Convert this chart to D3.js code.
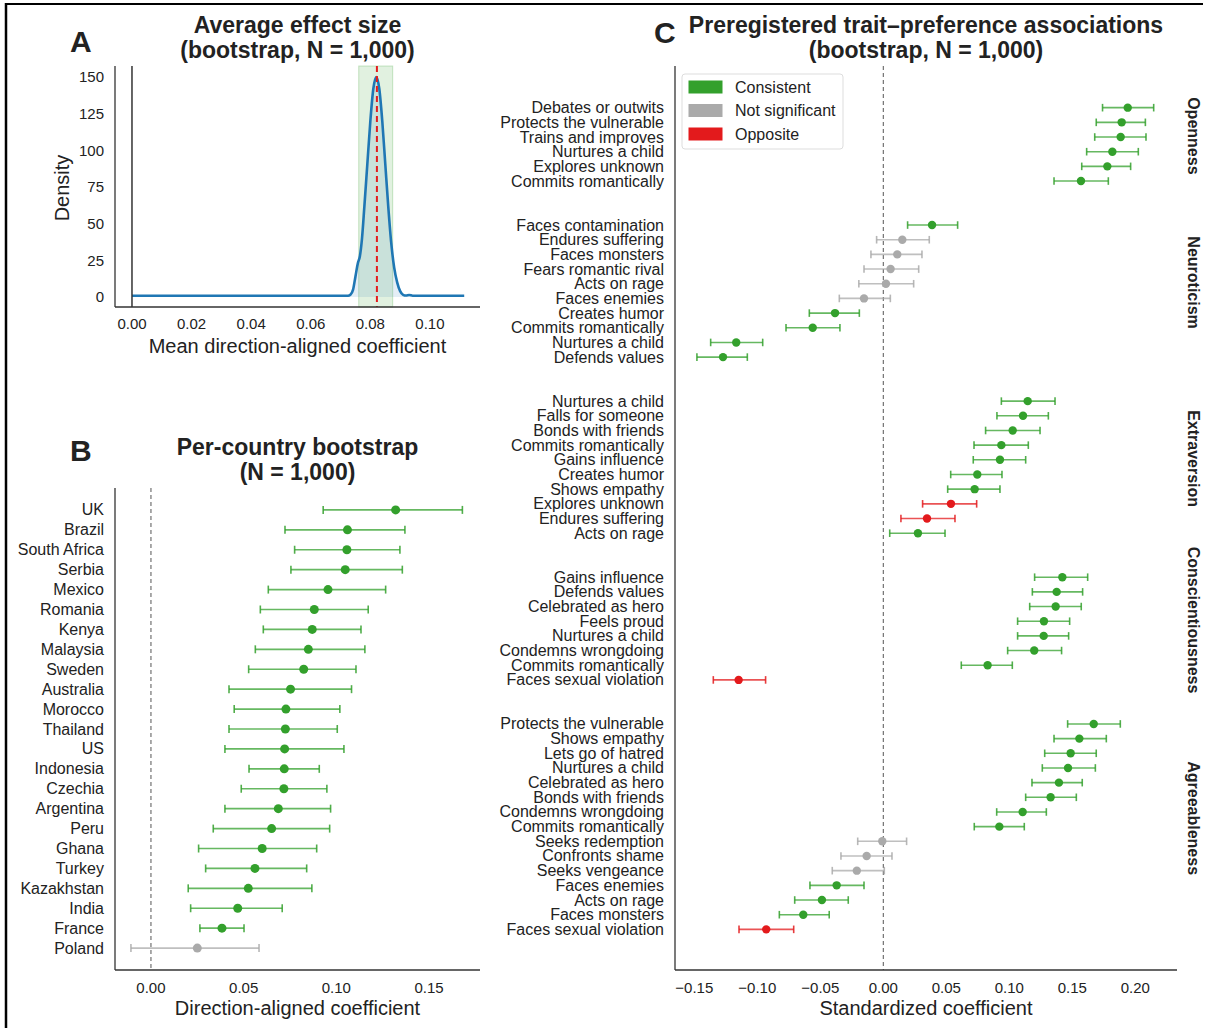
<!DOCTYPE html>
<html>
<head>
<meta charset="utf-8">
<script src="https://cdn.jsdelivr.net/npm/d3@7"></script>
<style>
  body { margin: 0; background: #fff; }
  svg { display: block; font-family: "Liberation Sans", Arial, sans-serif; }
</style>
</head>
<body>
<svg id="fig" width="1206" height="1028"></svg>
<script>
// ---- data ----
// panel A: bootstrap density of mean direction-aligned coefficient
const densX = [0, 0.0725, 0.0733, 0.0742, 0.0750, 0.0758, 0.0765, 0.0772, 0.0780, 0.0790, 0.0800, 0.0810, 0.0820, 0.0830, 0.0840, 0.0850, 0.0860, 0.0870, 0.0880, 0.0890, 0.0900, 0.0910, 0.0920, 0.0930, 0.0942, 0.1115];
const densY = [0.8, 0.8, 1.5, 5, 14, 23, 28, 40, 62, 91, 120, 142, 150, 142, 120, 91, 62, 37, 20, 10, 4, 1.5, 1.0, 1.4, 0.9, 0.8];
const ciA = [0.0761, 0.0875];
const meanA = 0.0822;
const ticksAx = [0, 0.02, 0.04, 0.06, 0.08, 0.10];
const ticksAy = [0, 25, 50, 75, 100, 125, 150];

// panel B: per-country bootstrap
const countries = ["UK", "Brazil", "South Africa", "Serbia", "Mexico", "Romania", "Kenya", "Malaysia", "Sweden", "Australia", "Morocco", "Thailand", "US", "Indonesia", "Czechia", "Argentina", "Peru", "Ghana", "Turkey", "Kazakhstan", "India", "France", "Poland"];
const countryEst = [0.132, 0.106, 0.1057, 0.1048, 0.0955, 0.0881, 0.087, 0.0849, 0.0824, 0.0753, 0.0728, 0.0725, 0.0721, 0.0719, 0.0717, 0.0687, 0.0651, 0.060, 0.0561, 0.0525, 0.0468, 0.0383, 0.025];
const countryLo = [0.0929, 0.0723, 0.0775, 0.0755, 0.0633, 0.059, 0.0606, 0.0563, 0.0527, 0.0421, 0.0449, 0.0421, 0.0399, 0.0529, 0.0487, 0.0399, 0.0336, 0.0257, 0.0295, 0.0201, 0.0214, 0.0264, -0.0108];
const countryHi = [0.168, 0.137, 0.1343, 0.1356, 0.1266, 0.1172, 0.1133, 0.1154, 0.1106, 0.1082, 0.1019, 0.1005, 0.1041, 0.0908, 0.0949, 0.0969, 0.0964, 0.0894, 0.084, 0.0868, 0.0708, 0.0502, 0.0583];
const countrySig = ["c","c","c","c","c","c","c","c","c","c","c","c","c","c","c","c","c","c","c","c","c","c","n"];
const ticksB = [0, 0.05, 0.10, 0.15];

// panel C: preregistered trait-preference associations
const traits = ["Openness", "Neuroticism", "Extraversion", "Conscientiousness", "Agreeableness"];
const openItems = ["Debates or outwits", "Protects the vulnerable", "Trains and improves", "Nurtures a child", "Explores unknown", "Commits romantically"];
const openEst = [0.194, 0.1892, 0.1884, 0.1818, 0.1778, 0.1569];
const openLo = [0.174, 0.169, 0.1678, 0.1614, 0.1575, 0.1355];
const openHi = [0.2146, 0.208, 0.2085, 0.2024, 0.1963, 0.1786];
const openSig = ["c","c","c","c","c","c"];

const neuroItems = ["Faces contamination", "Endures suffering", "Faces monsters", "Fears romantic rival", "Acts on rage", "Faces enemies", "Creates humor", "Commits romantically", "Nurtures a child", "Defends values"];
const neuroEst = [0.0387, 0.0151, 0.0111, 0.0058, 0.0021, -0.0153, -0.0383, -0.056, -0.1167, -0.1272];
const neuroLo = [0.0193, -0.0053, -0.0098, -0.0153, -0.0194, -0.0349, -0.0587, -0.0772, -0.137, -0.1479];
const neuroHi = [0.059, 0.0365, 0.0307, 0.0281, 0.0241, 0.0056, -0.019, -0.0344, -0.0957, -0.1079];
const neuroSig = ["c","n","n","n","n","n","c","c","c","c"];

const extraItems = ["Nurtures a child", "Falls for someone", "Bonds with friends", "Commits romantically", "Gains influence", "Creates humor", "Shows empathy", "Explores unknown", "Endures suffering", "Acts on rage"];
const extraEst = [0.1146, 0.1109, 0.1027, 0.0937, 0.0926, 0.0746, 0.0725, 0.0537, 0.0347, 0.0275];
const extraLo = [0.0937, 0.0902, 0.0812, 0.072, 0.0714, 0.0535, 0.0511, 0.0312, 0.014, 0.0051];
const extraHi = [0.1363, 0.131, 0.1244, 0.1151, 0.113, 0.0942, 0.0926, 0.0741, 0.0569, 0.049];
const extraSig = ["c","c","c","c","c","c","c","o","o","c"];

const consItems = ["Gains influence", "Defends values", "Celebrated as hero", "Feels proud", "Nurtures a child", "Condemns wrongdoing", "Commits romantically", "Faces sexual violation"];
const consEst = [0.1421, 0.1376, 0.1368, 0.1275, 0.1273, 0.1198, 0.0828, -0.1148];
const consLo = [0.1201, 0.1183, 0.1162, 0.1066, 0.1066, 0.0987, 0.0619, -0.1349];
const consHi = [0.1622, 0.1582, 0.1571, 0.1479, 0.1471, 0.1415, 0.1024, -0.0934];
const consSig = ["c","c","c","c","c","c","c","o"];

const agreeItems = ["Protects the vulnerable", "Shows empathy", "Lets go of hatred", "Nurtures a child", "Celebrated as hero", "Bonds with friends", "Condemns wrongdoing", "Commits romantically", "Seeks redemption", "Confronts shame", "Seeks vengeance", "Faces enemies", "Acts on rage", "Faces monsters", "Faces sexual violation"];
const agreeEst = [0.167, 0.1556, 0.1487, 0.1466, 0.1394, 0.1328, 0.1106, 0.0921, -0.0008, -0.0132, -0.021, -0.037, -0.0487, -0.0635, -0.0929];
const agreeLo = [0.1463, 0.1355, 0.1281, 0.1262, 0.118, 0.113, 0.09, 0.0722, -0.0203, -0.0336, -0.0405, -0.0582, -0.0703, -0.0825, -0.1145];
const agreeHi = [0.1881, 0.177, 0.169, 0.1683, 0.1579, 0.1532, 0.1294, 0.1119, 0.0185, 0.0069, 0.0008, -0.0153, -0.0278, -0.0429, -0.0711];
const agreeSig = ["c","c","c","c","c","c","c","c","n","n","n","c","c","c","o"];

const ticksC = [-0.15, -0.10, -0.05, 0, 0.05, 0.10, 0.15, 0.20];
const legendLabels = ["Consistent", "Not significant", "Opposite"];

// ---- styling ----
const colors = { c: "#33a02c", n: "#aaaaaa", o: "#e31a1c" };
const ink = "#222";
const spine = "#333";

const svg = d3.select("#fig");

// outer frame (top and left edges only)
svg.append("line").attr("x1", 5).attr("x2", 1203).attr("y1", 4).attr("y2", 4)
  .attr("stroke", "#000").attr("stroke-width", 2.2);
svg.append("line").attr("x1", 6).attr("x2", 6).attr("y1", 3).attr("y2", 1028)
  .attr("stroke", "#000").attr("stroke-width", 2.5);

function title(lines, cx, y0, step) {
  lines.forEach((t, i) => {
    svg.append("text").attr("x", cx).attr("y", y0 + i * step)
      .attr("text-anchor", "middle").attr("font-size", 23).attr("font-weight", "bold")
      .attr("fill", ink).text(t);
  });
}
function panelLetter(t, x, y) {
  svg.append("text").attr("x", x).attr("y", y).attr("font-size", 30)
    .attr("font-weight", "bold").attr("fill", ink).text(t);
}
function spines(x0, x1, y0, y1) {
  svg.append("line").attr("x1", x0).attr("x2", x0).attr("y1", y0).attr("y2", y1)
    .attr("stroke", spine).attr("stroke-width", 1.3);
  svg.append("line").attr("x1", x0).attr("x2", x1).attr("y1", y1).attr("y2", y1)
    .attr("stroke", spine).attr("stroke-width", 1.3);
}
function xTicks(scale, ticks, y, fmt) {
  svg.append("g").selectAll("text").data(ticks).join("text")
    .attr("x", d => scale(d)).attr("y", y).attr("text-anchor", "middle")
    .attr("dominant-baseline", "central").attr("font-size", 15).attr("fill", ink)
    .text(fmt);
}
function errorRows(g, rows, x, yOf, cap, r) {
  const row = g.selectAll("g.row").data(rows).join("g").attr("class", "row")
    .attr("transform", d => `translate(0,${yOf(d)})`);
  row.append("line").attr("x1", d => x(d.lo)).attr("x2", d => x(d.hi))
    .attr("stroke", d => colors[d.sig]).attr("stroke-width", 1.6).attr("stroke-opacity", 0.75);
  row.append("line").attr("x1", d => x(d.lo)).attr("x2", d => x(d.lo)).attr("y1", -cap).attr("y2", cap)
    .attr("stroke", d => colors[d.sig]).attr("stroke-width", 1.6).attr("stroke-opacity", 0.85);
  row.append("line").attr("x1", d => x(d.hi)).attr("x2", d => x(d.hi)).attr("y1", -cap).attr("y2", cap)
    .attr("stroke", d => colors[d.sig]).attr("stroke-width", 1.6).attr("stroke-opacity", 0.85);
  row.append("circle").attr("cx", d => x(d.est)).attr("r", r).attr("fill", d => colors[d.sig]);
}

// ================= Panel A =================
{
  const L = 115, R = 480, T = 66, B = 307;
  const x = d3.scaleLinear().domain([-0.0057, 0.1168]).range([L, R]);
  const y = d3.scaleLinear().domain([-6.82, 157.5]).range([B, T]);
  const pts = densX.map((v, i) => [v, densY[i]]);

  panelLetter("A", 70, 52);
  title(["Average effect size", "(bootstrap, N = 1,000)"], 297.5, 33, 24.5);

  svg.append("rect").attr("x", x(ciA[0])).attr("y", T).attr("width", x(ciA[1]) - x(ciA[0]))
    .attr("height", B - T).attr("fill", colors.c).attr("fill-opacity", 0.15)
    .attr("stroke", colors.c).attr("stroke-opacity", 0.25);

  svg.append("path").datum(pts)
    .attr("d", d3.area().x(d => x(d[0])).y0(y(0)).y1(d => y(d[1])).curve(d3.curveMonotoneX))
    .attr("fill", "#1f77b4").attr("fill-opacity", 0.12);
  svg.append("path").datum(pts)
    .attr("d", d3.line().x(d => x(d[0])).y(d => y(d[1])).curve(d3.curveMonotoneX))
    .attr("fill", "none").attr("stroke", "#1f77b4").attr("stroke-width", 2.6);

  svg.append("line").attr("x1", x(0)).attr("x2", x(0)).attr("y1", T).attr("y2", B)
    .attr("stroke", "#333").attr("stroke-width", 1.5);
  svg.append("line").attr("x1", x(meanA)).attr("x2", x(meanA)).attr("y1", T).attr("y2", B)
    .attr("stroke", "#e31a1c").attr("stroke-width", 2).attr("stroke-dasharray", "6,4");

  spines(L, R, T, B);
  xTicks(x, ticksAx, 323, d3.format(".2f"));
  svg.append("g").selectAll("text").data(ticksAy).join("text")
    .attr("x", 104).attr("y", d => y(d)).attr("text-anchor", "end")
    .attr("dominant-baseline", "central").attr("font-size", 15).attr("fill", ink).text(d => d);

  svg.append("text").attr("x", 297.5).attr("y", 353).attr("text-anchor", "middle")
    .attr("font-size", 20).attr("fill", ink).text("Mean direction-aligned coefficient");
  svg.append("text").attr("transform", "translate(69,188) rotate(-90)").attr("text-anchor", "middle")
    .attr("font-size", 20).attr("fill", ink).text("Density");
}

// ================= Panel B =================
{
  const L = 115, R = 480, T = 488, B = 970;
  const x = d3.scaleLinear().domain([-0.0194, 0.1775]).range([L, R]);
  const y = d3.scalePoint().domain(countries).range([T, B]).padding(1.1);
  const rows = countries.map((c, i) => ({ name: c, est: countryEst[i], lo: countryLo[i], hi: countryHi[i], sig: countrySig[i] }));

  panelLetter("B", 70, 461);
  title(["Per-country bootstrap", "(N = 1,000)"], 297.5, 455, 24.5);

  svg.append("line").attr("x1", x(0)).attr("x2", x(0)).attr("y1", T).attr("y2", B)
    .attr("stroke", "#555").attr("stroke-width", 1).attr("stroke-dasharray", "4,3");

  errorRows(svg.append("g"), rows, x, d => y(d.name), 4, 4.5);

  spines(L, R, T, B);
  xTicks(x, ticksB, 987, d3.format(".2f"));
  svg.append("g").selectAll("text").data(countries).join("text")
    .attr("x", 104).attr("y", d => y(d)).attr("text-anchor", "end")
    .attr("dominant-baseline", "central").attr("font-size", 16).attr("fill", ink).text(d => d);

  svg.append("text").attr("x", 297.5).attr("y", 1015).attr("text-anchor", "middle")
    .attr("font-size", 20).attr("fill", ink).text("Direction-aligned coefficient");
}

// ================= Panel C =================
{
  const L = 675, R = 1177, T = 66, B = 970;
  const x = d3.scaleLinear().domain([-0.1653, 0.2331]).range([L, R]);
  const groups = [
    { trait: traits[0], items: openItems, est: openEst, lo: openLo, hi: openHi, sig: openSig },
    { trait: traits[1], items: neuroItems, est: neuroEst, lo: neuroLo, hi: neuroHi, sig: neuroSig },
    { trait: traits[2], items: extraItems, est: extraEst, lo: extraLo, hi: extraHi, sig: extraSig },
    { trait: traits[3], items: consItems, est: consEst, lo: consLo, hi: consHi, sig: consSig },
    { trait: traits[4], items: agreeItems, est: agreeEst, lo: agreeLo, hi: agreeHi, sig: agreeSig }
  ];
  // assign row positions, two empty rows between trait groups
  const rows = [];
  const groupPos = [];
  let k = 0;
  groups.forEach(g => {
    const start = k;
    g.items.forEach((name, i) => {
      rows.push({ name, est: g.est[i], lo: g.lo[i], hi: g.hi[i], sig: g.sig[i], pos: k });
      k += 1;
    });
    groupPos.push({ trait: g.trait, mid: (start + k - 1) / 2 });
    k += 2;
  });
  const last = k - 3;
  const y = d3.scaleLinear().domain([-2.84, last + 2.77]).range([T, B]);

  panelLetter("C", 654, 43);
  title(["Preregistered trait\u2013preference associations", "(bootstrap, N = 1,000)"], 926, 33, 24.5);

  svg.append("line").attr("x1", x(0)).attr("x2", x(0)).attr("y1", T).attr("y2", B)
    .attr("stroke", "#555").attr("stroke-width", 1).attr("stroke-dasharray", "4,3");

  errorRows(svg.append("g"), rows, x, d => y(d.pos), 3.8, 4.2);

  spines(L, R, T, B);
  xTicks(x, ticksC, 987, d3.format(".2f"));
  svg.append("g").selectAll("text").data(rows).join("text")
    .attr("x", 664).attr("y", d => y(d.pos)).attr("text-anchor", "end")
    .attr("dominant-baseline", "central").attr("font-size", 16).attr("fill", ink).text(d => d.name);

  svg.append("g").selectAll("text").data(groupPos).join("text")
    .attr("transform", d => `translate(1193,${y(d.mid - 0.58)}) rotate(90)`)
    .attr("text-anchor", "middle").attr("dominant-baseline", "central")
    .attr("font-size", 16).attr("font-weight", "bold").attr("fill", ink).text(d => d.trait);

  svg.append("text").attr("x", 926).attr("y", 1015).attr("text-anchor", "middle")
    .attr("font-size", 20).attr("fill", ink).text("Standardized coefficient");

  // legend
  const lg = svg.append("g").attr("transform", "translate(682,74)");
  lg.append("rect").attr("width", 161).attr("height", 75).attr("rx", 3)
    .attr("fill", "#fff").attr("stroke", "#ddd").attr("stroke-width", 1);
  const keys = ["c", "n", "o"];
  legendLabels.forEach((t, i) => {
    lg.append("rect").attr("x", 6.5).attr("y", 6.5 + i * 23.5).attr("width", 34).attr("height", 13)
      .attr("fill", colors[keys[i]]);
    lg.append("text").attr("x", 53).attr("y", 13 + i * 23.5).attr("dominant-baseline", "central")
      .attr("font-size", 16).attr("fill", ink).text(t);
  });
}
</script>
</body>
</html>
